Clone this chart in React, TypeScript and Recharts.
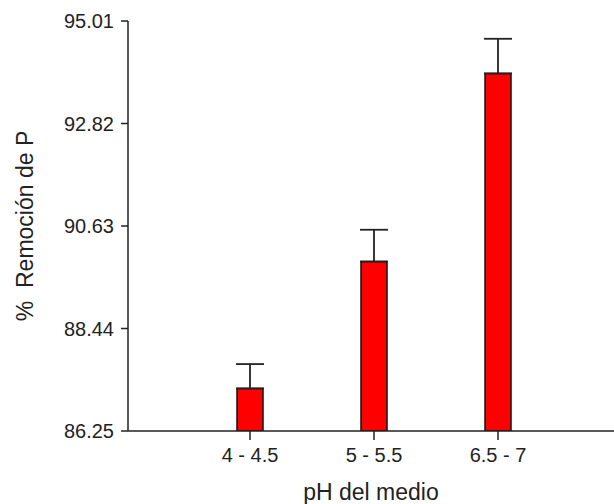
import { BarChart, Bar, XAxis, YAxis, ErrorBar } from "recharts";

// pH ranges and mean P removal (%) with upper error
const phRanges = ["4 - 4.5", "5 - 5.5", "6.5 - 7"];
const removal = [87.16, 89.87, 93.89];
const upperError = [0.52, 0.68, 0.74];
const yTicks = [86.25, 88.44, 90.63, 92.82, 95.01];

const data = phRanges.map((ph, i) => ({
  ph,
  removal: removal[i],
  err: [0, upperError[i]],
}));

const font = "Arial, 'Liberation Sans', sans-serif";
const ink = "#222";

export default function App() {
  return (
    <div style={{ position: "absolute", left: 0, top: 0, background: "#fff" }}>
      <BarChart
        width={614}
        height={504}
        data={data}
        margin={{ top: 21, right: 0, left: 0, bottom: 0 }}
      >
        <XAxis
          dataKey="ph"
          height={73}
          padding={{ left: 60, right: 54 }}
          stroke={ink}
          strokeWidth={1.5}
          tickSize={9}
          tickMargin={8}
          tick={{ fontSize: 20, fill: ink, fontFamily: font }}
          label={{
            value: "pH del medio",
            position: "insideBottom",
            offset: 4,
            style: { fontSize: 23, fill: ink, fontFamily: font },
          }}
        />
        <YAxis
          width={128}
          domain={[86.25, 95.01]}
          ticks={yTicks}
          interval={0}
          allowDataOverflow
          stroke={ink}
          strokeWidth={1.5}
          tickSize={7}
          tickMargin={7}
          tickFormatter={(v: number) => v.toFixed(2)}
          tick={{ fontSize: 20, fill: ink, fontFamily: font }}
          label={{
            value: "%\u00a0 Remoción de P",
            angle: -90,
            position: "insideLeft",
            offset: 25,
            style: { fontSize: 23, fill: ink, fontFamily: font, textAnchor: "middle" },
          }}
        />
        <Bar
          dataKey="removal"
          barSize={26}
          fill="#ff0000"
          stroke="#111"
          strokeWidth={1.5}
          isAnimationActive={false}
        >
          <ErrorBar
            dataKey="err"
            direction="y"
            width={14}
            stroke={ink}
            strokeWidth={1.8}
            isAnimationActive={false}
          />
        </Bar>
      </BarChart>
    </div>
  );
}
